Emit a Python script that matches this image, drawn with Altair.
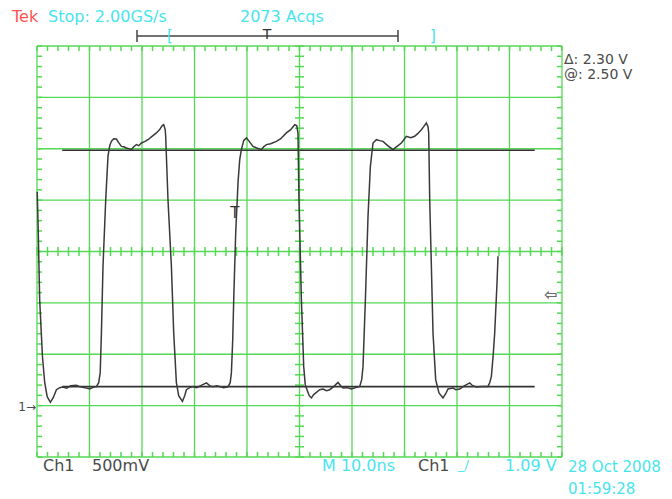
import altair as alt
import pandas as pd

# ---- waveform: time (ns) and voltage (V) ----
trace_t = [
    0.04, 0.23, 0.51, 1.03, 1.47, 1.94, 2.55, 3.09, 3.70, 4.32,
    4.90, 5.66, 6.42, 7.50, 8.13, 9.09, 10.04, 10.80, 11.31, 11.75,
    12.04, 12.27, 12.57, 13.09, 13.52, 13.85, 14.17, 14.61, 15.12, 15.56,
    16.08, 16.51, 17.03, 17.47, 17.98, 18.42, 18.93, 19.37, 19.89, 20.51,
    21.14, 21.85, 22.74, 23.37, 23.85, 24.13, 24.42, 24.51, 24.95, 25.60,
    26.04, 26.55, 26.99, 27.70, 28.13, 28.46, 29.09, 29.71, 30.42, 31.18,
    32.27, 32.90, 33.52, 34.23, 34.80,
    35.56, 36.38, 36.80, 37.03, 37.28, 37.47, 37.85, 38.29, 38.61, 38.93,
    39.37, 39.89, 40.32, 41.14, 41.85, 42.74, 43.18, 43.70, 44.51, 45.60,
    46.42, 47.50, 48.32, 49.09, 49.47, 49.71, 49.90, 50.36, 50.80, 51.09,
    51.43, 51.85, 52.27, 52.70, 53.22, 53.85, 54.48, 55.18, 55.75, 56.51,
    57.33, 57.85, 58.29, 58.99, 59.89, 60.70, 61.47, 61.85, 62.10, 62.55,
    63.05, 63.50, 64.00, 64.65, 65.28, 65.90, 66.80, 67.81, 68.51, 69.41,
    70.36, 71.18, 71.94, 72.51, 73.22, 73.66, 74.17, 74.48, 74.61, 74.80,
    75.12, 75.43, 75.94, 76.57, 77.33, 77.85, 78.29, 79.24, 79.75, 80.51,
    81.47, 82.42, 82.99, 83.70, 84.70, 85.90, 86.23, 86.55, 86.90, 87.18,
    87.62, 87.81,
]
trace_v = [
    2.097, 1.727, 1.046, 0.501, 0.238, 0.102, 0.047, 0.092, 0.170, 0.190,
    0.195, 0.185, 0.209, 0.214, 0.200, 0.190, 0.177, 0.195, 0.200, 0.238,
    0.336, 0.725, 1.370, 2.019, 2.441, 2.545, 2.587, 2.613, 2.610, 2.574,
    2.538, 2.535, 2.523, 2.516, 2.506, 2.535, 2.555, 2.545, 2.571, 2.584,
    2.603, 2.633, 2.669, 2.701, 2.740, 2.749, 2.701, 2.636, 2.019, 1.370,
    0.725, 0.238, 0.112, 0.056, 0.112, 0.170, 0.190, 0.200, 0.190, 0.209,
    0.236, 0.209, 0.200, 0.209, 0.202,
    0.190, 0.197, 0.238, 0.336, 0.657, 1.046, 1.698, 2.185, 2.409, 2.506,
    2.594, 2.620, 2.594, 2.538, 2.523, 2.506, 2.535, 2.555, 2.564, 2.587,
    2.613, 2.669, 2.701, 2.749, 2.740, 2.669, 2.019, 1.046, 0.397, 0.219,
    0.170, 0.112, 0.090, 0.122, 0.144, 0.170, 0.177, 0.161, 0.170, 0.200,
    0.241, 0.209, 0.187, 0.190, 0.177, 0.190, 0.202, 0.268, 0.397, 1.046,
    1.857, 2.344, 2.571, 2.603, 2.594, 2.587, 2.545, 2.506, 2.535, 2.571,
    2.636, 2.623, 2.636, 2.662, 2.701, 2.730, 2.766, 2.730, 2.669, 2.019,
    1.370, 0.722, 0.268, 0.138, 0.090, 0.131, 0.177, 0.187, 0.170, 0.177,
    0.209, 0.236, 0.209, 0.197, 0.200, 0.202, 0.238, 0.300, 0.511, 0.722,
    1.209, 1.468,
]

cursor_levels = [2.50, 0.20]      # V  (delta 2.30 V, @ 2.50 V)
cursor_span = [4.8, 94.8]         # ns
trigger_level = [1.09]            # V
trigger_mark = [37.66, 1.89]      # ns, V  ("T" on the rising edge)

time_domain = [0, 100]            # 10 div x 10 ns
volt_domain = [-0.485, 3.515]     # 8 div x 500 mV
time_grid = [0, 10, 20, 30, 40, 50, 60, 70, 80, 90, 100]
volt_grid = [-0.485, 0.015, 0.515, 1.015, 1.515, 2.015, 2.515, 3.015, 3.515]
time_center = 50
volt_center = 1.515

time_minor = [round(2 * k, 3) for k in range(51)]
volt_minor = [round(-0.485 + 0.1 * k, 3) for k in range(41)]

# ---- style ----
W, H = 525, 411
GREEN = "#55d955"
CYAN = "#48e4ee"
GRAY = "#4a4a4a"
RED = "#ff5252"
TRACE = "#3a3a3a"
FONT = "DejaVu Sans"

xs = alt.Scale(domain=time_domain, nice=False, zero=False)
ys = alt.Scale(domain=volt_domain, nice=False, zero=False)

ns_per_px = (time_domain[1] - time_domain[0]) / W
v_per_px = (volt_domain[1] - volt_domain[0]) / H

one = pd.DataFrame({"a": [0]})


def X(field="t"):
    return alt.X(f"{field}:Q", scale=xs, axis=None)


def Y(field="v"):
    return alt.Y(f"{field}:Q", scale=ys, axis=None)


# grid
grid_v = alt.Chart(pd.DataFrame({"t": time_grid})).mark_rule(color=GREEN, strokeWidth=1.3).encode(x=X())
grid_h = alt.Chart(pd.DataFrame({"v": volt_grid})).mark_rule(color=GREEN, strokeWidth=1.3).encode(y=Y())

# minor ticks: short marks every 0.2 division on the border (inward) and on the centre lines
border_len, center_len = 5, 9
tx_rows = []
for t in time_minor:
    tx_rows.append({"t": t, "v": volt_domain[1] - (border_len / 2) * v_per_px, "len": border_len})
    tx_rows.append({"t": t, "v": volt_domain[0] + (border_len / 2) * v_per_px, "len": border_len})
    tx_rows.append({"t": t, "v": volt_center, "len": center_len})
ticks_x = alt.Chart(pd.DataFrame(tx_rows)).mark_tick(
    color=GREEN, thickness=1.5, orient="vertical", opacity=1
).encode(x=X(), y=Y(), size=alt.Size("len:Q", scale=None, legend=None))

ty_rows = []
for v in volt_minor:
    ty_rows.append({"v": v, "t": time_domain[0] + (border_len / 2) * ns_per_px, "len": border_len})
    ty_rows.append({"v": v, "t": time_domain[1] - (border_len / 2) * ns_per_px, "len": border_len})
    ty_rows.append({"v": v, "t": time_center, "len": center_len})
ticks_y = alt.Chart(pd.DataFrame(ty_rows)).mark_tick(
    color=GREEN, thickness=1.5, orient="horizontal", opacity=1
).encode(x=X(), y=Y(), size=alt.Size("len:Q", scale=None, legend=None))

# cursors
cur = pd.DataFrame({"v": cursor_levels, "t0": [cursor_span[0]] * 2, "t1": [cursor_span[1]] * 2})
cursors = alt.Chart(cur).mark_rule(color="#333333", strokeWidth=1.6).encode(
    y=Y(), x=X("t0"), x2="t1:Q")

# trace
tr = pd.DataFrame({"t": trace_t, "v": trace_v, "i": list(range(len(trace_t)))})
trace = alt.Chart(tr).mark_line(color=TRACE, strokeWidth=1.5).encode(
    x=X(), y=Y(), order="i:Q")

# markers tied to data
trig = alt.Chart(pd.DataFrame({"v": trigger_level})).mark_text(
    text="⇦", font=FONT, fontSize=16, fontWeight="bold", color="#6a6a6a",
    align="center", baseline="middle"
).encode(y=Y(), x=alt.value(W - 11))
gnd = alt.Chart(pd.DataFrame({"v": [0.0]})).mark_text(
    text="1→", font=FONT, fontSize=12, color=GRAY, align="right", baseline="middle"
).encode(y=Y(), x=alt.value(-1))
tmark = alt.Chart(pd.DataFrame({"t": [trigger_mark[0]], "v": [trigger_mark[1]]})).mark_text(
    text="T", font=FONT, fontSize=15, color="#333333", align="center", baseline="middle"
).encode(x=X(), y=Y())


def label(txt, x, y, color, size=16, align="left", baseline="middle"):
    return alt.Chart(one).mark_text(
        text=txt, font=FONT, fontSize=size, color=color, align=align, baseline=baseline
    ).encode(x=alt.value(x), y=alt.value(y))


def seg(x1, y1, x2, y2, color="#444444", w=1.5):
    return alt.Chart(one).mark_rule(color=color, strokeWidth=w).encode(
        x=alt.value(x1), y=alt.value(y1), x2=alt.value(x2), y2=alt.value(y2))


labels = [
    label("Tek", -25, -29, RED),
    label("Stop: 2.00GS/s", 11, -29, CYAN),
    label("2073 Acqs", 203, -29, CYAN),
    seg(100, -10, 361, -10),
    seg(100, -16, 100, -4),
    seg(361, -16, 361, -4),
    label("[", 130, -10, CYAN, size=15),
    label("]", 393, -10, CYAN, size=15),
    label("T", 230, -11, "#333333", size=14, align="center"),
    label("Δ: 2.30 V", 527, 14, GRAY, size=14),
    label("@: 2.50 V", 527, 29, GRAY, size=14),
    label("Ch1", 6, 420, GRAY),
    label("500mV", 55, 420, GRAY),
    label("M 10.0ns", 285, 420, CYAN),
    label("Ch1", 381, 420, GRAY),
    label("_/", 421, 419, CYAN, size=13),
    label("1.09 V", 468, 420, CYAN),
    label("28 Oct 2008", 531, 421, CYAN, size=15),
    label("01:59:28", 531, 443, CYAN, size=15),
]

chart = alt.layer(
    grid_v, grid_h, ticks_x, ticks_y,
    cursors, trace, trig, gnd, tmark, *labels
).properties(
    width=W, height=H,
    autosize=alt.AutoSizeParams(type="none"),
    padding={"left": 29, "top": 38, "right": 102, "bottom": 40},
    background="white",
).configure_view(stroke=None)

chart.save("out.html", embed_options={"renderer": "svg", "actions": False})
